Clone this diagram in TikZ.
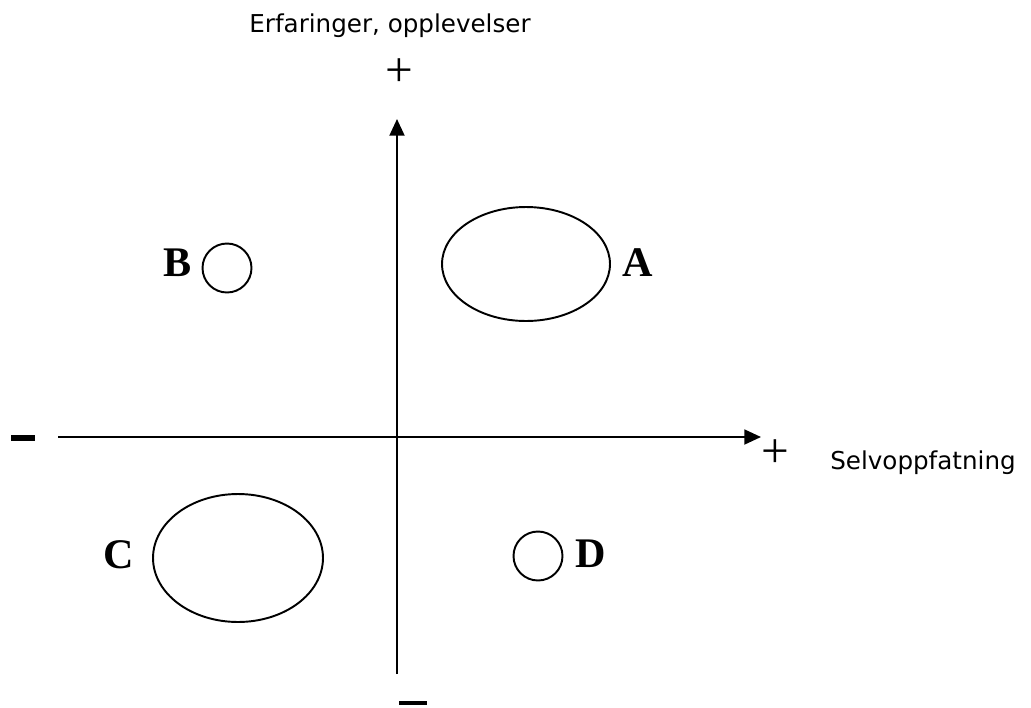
\documentclass[tikz,border=0pt]{standalone}
\usepackage{fontspec}
\setmainfont{Liberation Serif}
\newfontfamily\lblfont{DejaVu Sans}
\usetikzlibrary{arrows.meta,shapes.geometric}
\begin{document}
\begin{tikzpicture}[x=0.02cm,y=-0.02cm,
  axis/.style={line width=1.2pt,-{Triangle[length=9.5pt,width=8.5pt]}},
  blob/.style={draw,ellipse,line width=1.1pt,inner sep=0pt},
  letter/.style={font=\fontsize{24}{26}\selectfont\bfseries,inner sep=0pt},
  axlabel/.style={font=\lblfont\fontsize{14}{16}\selectfont},
  plus/.style={font=\fontsize{28}{30}\selectfont\rmfamily,inner sep=0pt},
  minusbar/.style={inner sep=0pt}]
\useasboundingbox (0,0) rectangle (1031,707);
% axes
\coordinate (xstart) at (58,437);
\coordinate (xend) at (761,437);
\coordinate (ystart) at (397,674);
\coordinate (yend) at (397,119);
\draw[axis] (xstart) -- (xend);
\draw[axis] (ystart) -- (yend);
% axis signs
\node[plus] (ptop) at (399,73) {+};
\node[plus] (pright) at (775,454) {+};
\node[minusbar] (mleft) at (23,438) {\rule{13.6pt}{3.6pt}};
\node[minusbar] (mbottom) at (413,703) {\rule{15.9pt}{2.6pt}};
% axis labels
\node[axlabel] (ylab) at (390,26) {Erfaringer, opplevelser};
\node[axlabel] (xlab) at (923,463) {Selvoppfatning};
% regions
\node[blob,minimum width=3.36cm,minimum height=2.28cm] (A) at (526,264) {};
\node[blob,minimum width=0.98cm,minimum height=0.98cm] (B) at (227,268) {};
\node[blob,minimum width=3.4cm,minimum height=2.56cm] (C) at (238,558) {};
\node[blob,minimum width=0.98cm,minimum height=0.98cm] (D) at (538,556) {};
\node[letter] (lA) at (638,263) {A};
\node[letter] (lB) at (178,263) {B};
\node[letter] (lC) at (119,555) {C};
\node[letter] (lD) at (591,554) {D};
\end{tikzpicture}
\end{document}
